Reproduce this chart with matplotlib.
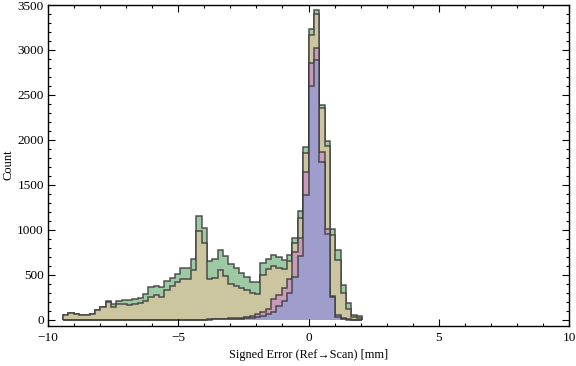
import numpy as np
import matplotlib.pyplot as plt
from matplotlib.ticker import MultipleLocator

plt.rcParams['font.family'] = ['Liberation Serif', 'DejaVu Serif']

# bins: width ~0.205 mm, from -46 to +10 bin widths around 0
bin_width = 0.205
edges = bin_width * np.arange(-46, 11)

# counts per bin (56 bins, left to right)
green = [52, 76, 63, 52, 52, 65, 107, 142, 207, 178,
         211, 218, 222, 233, 245, 294, 363, 372, 361, 433,
         468, 511, 583, 583, 681, 1156, 1025, 660, 676, 783,
         716, 625, 580, 525, 472, 422, 422, 630, 678, 717,
         698, 668, 720, 915, 1207, 1926, 3230, 3441, 2385, 1989,
         1015, 778, 387, 185, 50, 45]
tan = [52, 76, 63, 52, 52, 65, 107, 142, 198, 146,
       176, 174, 168, 174, 190, 215, 260, 276, 252, 328,
       383, 426, 457, 457, 550, 985, 860, 452, 466, 552,
       493, 404, 375, 354, 328, 300, 292, 500, 565, 595,
       575, 564, 658, 855, 1130, 1859, 3167, 3396, 2359, 1937,
       948, 667, 296, 120, 30, 19]
pink = [0, 0, 0, 0, 0, 0, 0, 0, 0, 0,
        0, 0, 0, 0, 0, 0, 0, 0, 0, 0,
        0, 0, 0, 0, 0, 0, 5, 10, 12, 14,
        16, 18, 20, 25, 37, 44, 63, 93, 125, 230,
        280, 360, 460, 760, 915, 1648, 2852, 3026, 1863, 1011,
        270, 55, 20, 8, 3, 0]
blue = [0, 0, 0, 0, 0, 0, 0, 0, 0, 0,
        0, 0, 0, 0, 0, 0, 0, 0, 0, 0,
        0, 0, 0, 0, 0, 0, 3, 5, 7, 9,
        10, 12, 13, 15, 19, 25, 30, 40, 67, 93,
        150, 210, 296, 480, 710, 1389, 2600, 2885, 1759, 952,
        252, 37, 12, 5, 2, 0]

series = [green, tan, pink, blue]
colors = ['#9dc9a4', '#ccc6a0', '#c99bba', '#9e9dcc']

fig = plt.figure(figsize=(5.76, 3.66), dpi=100)
ax = fig.add_axes([48 / 576, 40 / 366, 521 / 576, 321 / 366])

for vals, col in zip(series, colors):
    ax.stairs(vals, edges, fill=True, facecolor=col,
              edgecolor=(0.22, 0.22, 0.22, 0.85), linewidth=1.1)

ax.set_xlim(-10, 10)
ax.set_ylim(-67, 3500)

ax.xaxis.set_major_locator(MultipleLocator(5))
ax.xaxis.set_minor_locator(MultipleLocator(1))
ax.yaxis.set_major_locator(MultipleLocator(500))
ax.yaxis.set_minor_locator(MultipleLocator(100))
ax.tick_params(which='both', direction='in', top=True, right=True, width=0.8)
ax.tick_params(which='major', length=5, labelsize=9.5)
ax.tick_params(which='minor', length=2.5)
ax.tick_params(axis='x', pad=4)
ax.tick_params(axis='y', pad=3)
for sp in ax.spines.values():
    sp.set_linewidth(1.0)

ax.set_xlabel('Signed Error (Ref\u2192Scan) [mm]', fontsize=8.8, labelpad=4)
# y label placed by hand so it stays inside the figure
fig.text(9 / 576, 1 - 165 / 366, 'Count', rotation=90, fontsize=9,
         ha='center', va='center')

fig.savefig('out.png', dpi=100)
